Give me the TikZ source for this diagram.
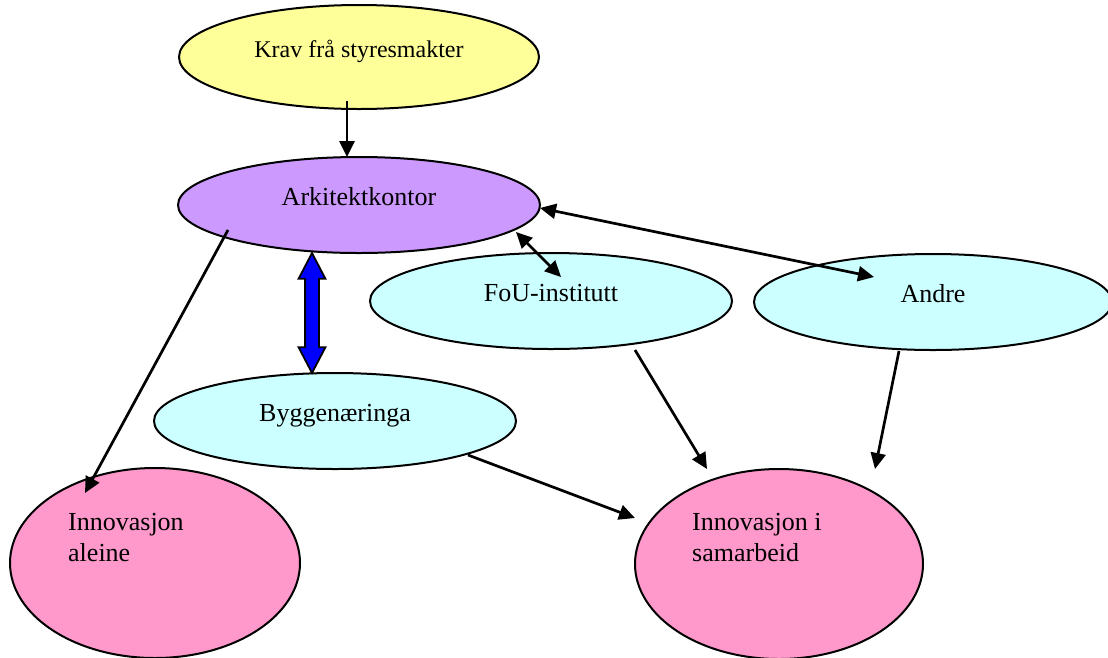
\documentclass[tikz,border=0pt]{standalone}
\usepackage{fontspec}
\setmainfont{Liberation Serif}
\usetikzlibrary{shapes.geometric,shapes.arrows,arrows.meta}
\definecolor{kravc}{HTML}{FFFF99}
\definecolor{arkc}{HTML}{CC99FF}
\definecolor{cyanc}{HTML}{CCFFFF}
\definecolor{pinkc}{HTML}{FF99CC}
\begin{document}
\begin{tikzpicture}[x=1pt,y=-1pt,
  ell/.style={ellipse, draw, line width=2pt, inner sep=0pt, text height=9pt, text depth=9pt,
    font=\fontsize{26}{31}\selectfont},
  txt/.style={inner sep=0pt, align=left, font=\fontsize{26}{31}\selectfont},
  tipA/.tip={Triangle[length=16pt,width=15pt]},
  conn/.style={line width=2.7pt, -tipA},
  biconn/.style={line width=2.7pt, tipA-tipA},
  bluearrow/.style={double arrow, draw=black, line width=1.8pt, fill=blue, rotate=90,
    minimum height=120pt, inner xsep=0pt, inner ysep=6pt, text height=0pt, text depth=0pt,
    double arrow head extend=6.5pt, double arrow tip angle=55}
]
\useasboundingbox (0,0) rectangle (1108,657);
% ellipses
\node[ell, fill=kravc, minimum width=360, minimum height=104, font=\fontsize{24}{29}\selectfont] (krav) at (359,57) {Krav frå styresmakter};
\node[ell, fill=arkc, minimum width=362, minimum height=96] (ark) at (359,205) {Arkitektkontor};
\node[ell, fill=cyanc, minimum width=362, minimum height=96] (fou) at (551,301) {FoU-institutt};
\node[ell, fill=cyanc, minimum width=358, minimum height=96] (andre) at (933,302) {Andre};
\node[ell, fill=cyanc, minimum width=362, minimum height=96] (bygg) at (335,421) {Byggenæringa};
\node[ell, fill=pinkc, minimum width=290, minimum height=190] (aleine) at (155,563) {};
\node[ell, fill=pinkc, minimum width=288, minimum height=190] (samar) at (779,564) {};
\node[txt, anchor=north west] (aleineT) at ([shift={(-87,-50)}]aleine.center) {Innovasjon\\aleine};
\node[txt, anchor=north west] (samarT) at ([shift={(-87,-51)}]samar.center) {Innovasjon i\\samarbeid};
% blue double arrow between Arkitektkontor and Byggenæringa
\node[bluearrow] (dbl) at (312,313) {};
% connectors
\draw[conn] ([shift={(-12,44)}]krav.center) -- ([shift={(-12,-48)}]ark.center);
\draw[conn] ([shift={(-131,25)}]ark.center) -- ([shift={(-70,-70)}]aleine.center);
\draw[biconn] ([shift={(157,27)}]ark.center) -- ([shift={(10,-24)}]fou.center);
\draw[biconn] ([shift={(181,3)}]ark.center) -- ([shift={(-59,-25)}]andre.center);
\draw[conn] ([shift={(84,49)}]fou.center) -- ([shift={(-72,-95)}]samar.center);
\draw[conn] ([shift={(-34,49)}]andre.center) -- ([shift={(96,-95)}]samar.center);
\draw[conn] ([shift={(133,34)}]bygg.center) -- ([shift={(-144,-46)}]samar.center);
\end{tikzpicture}
\end{document}
